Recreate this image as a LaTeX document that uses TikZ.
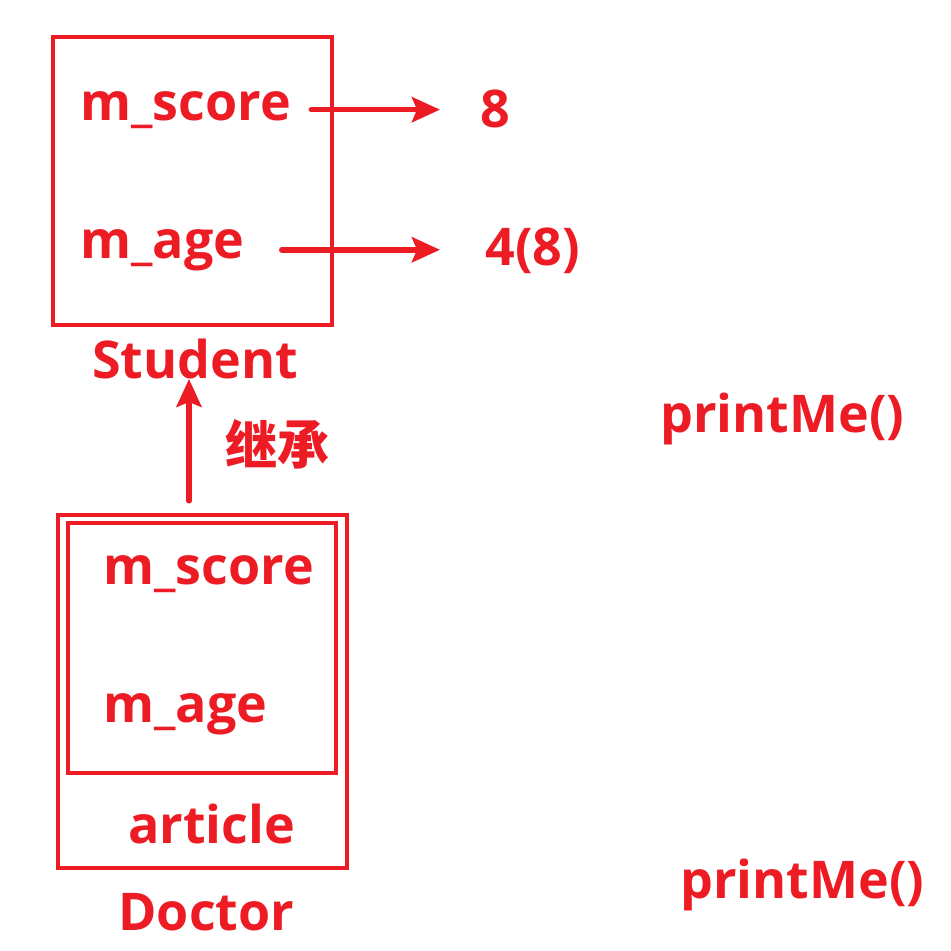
\documentclass[tikz,border=0pt]{standalone}
\usepackage{fontspec}
\setmainfont{Open Sans}
\newfontfamily\cjk{Noto Sans CJK SC}
\usetikzlibrary{arrows.meta}
\definecolor{inkred}{HTML}{ED1C24}
\tikzset{
	box/.style={draw=inkred, line width=2.25pt, rectangle, inner sep=0pt},
	lbl/.style={text=inkred, font=\fontsize{26}{30}\selectfont\bfseries, inner sep=0pt},
	link/.style={draw=inkred, line width=2.75pt, line cap=round, -{Stealth[length=14pt,width=12.5pt,inset=2.5pt]}}
}

\begin{document}
\begin{tikzpicture}[x=0.5pt,y=-0.5pt]
				\useasboundingbox (0,0) rectangle (951,950);
				
				% Student
				\node[box, minimum width=139.5pt, minimum height=144pt] (student) at (192.5,181) {};
				\node[lbl, anchor=base west] (stscore) at (80,120) {m\_score};
				\node[lbl, anchor=base west] (stage) at (80,258) {m\_age};
				\node[lbl, anchor=base] (stname) at (195,378) {Student};
				
				\node[lbl, anchor=base west] (val8) at (480,127) {8};
				\node[lbl, anchor=base west] (val48) at (485,265) {4(8)};
				\draw[link] ([xshift=10pt]stscore.east) -- ([xshift=-20pt]stscore.east -| val8.west);
				\draw[link] ([xshift=18.5pt]stage.east) -- ([xshift=-22.5pt]stage.east -| val48.west);
				
				\node[lbl, anchor=base west] (stprint) at (660,432) {printMe()};
				
				% Doctor
				\node[box, minimum width=144.5pt, minimum height=176.5pt] (doctor) at (202.5,691.5) {};
				\node[box, minimum width=134pt, minimum height=125pt] (inner) at (202,648) {};
				\node[lbl, anchor=base west] (drscore) at (103,584) {m\_score};
				\node[lbl, anchor=base west] (drage) at (103,722) {m\_age};
				\node[lbl, anchor=base west] (drarticle) at (128,843) {article};
				\node[lbl, anchor=base west] (drname) at (118,930) {Doctor};
				
				\node[lbl, anchor=base west] (drprint) at (680,898) {printMe()};
				
				% inheritance
				\draw[link] ([shift={(-6.75pt,6pt)}]doctor.north) -- ([xshift=-6.75pt]doctor.north |- stname.south);
				\node[lbl, font=\cjk\fontsize{26}{30}\selectfont\bfseries] (inherit) at (277,444) {继承};
\end{tikzpicture}
\end{document}
